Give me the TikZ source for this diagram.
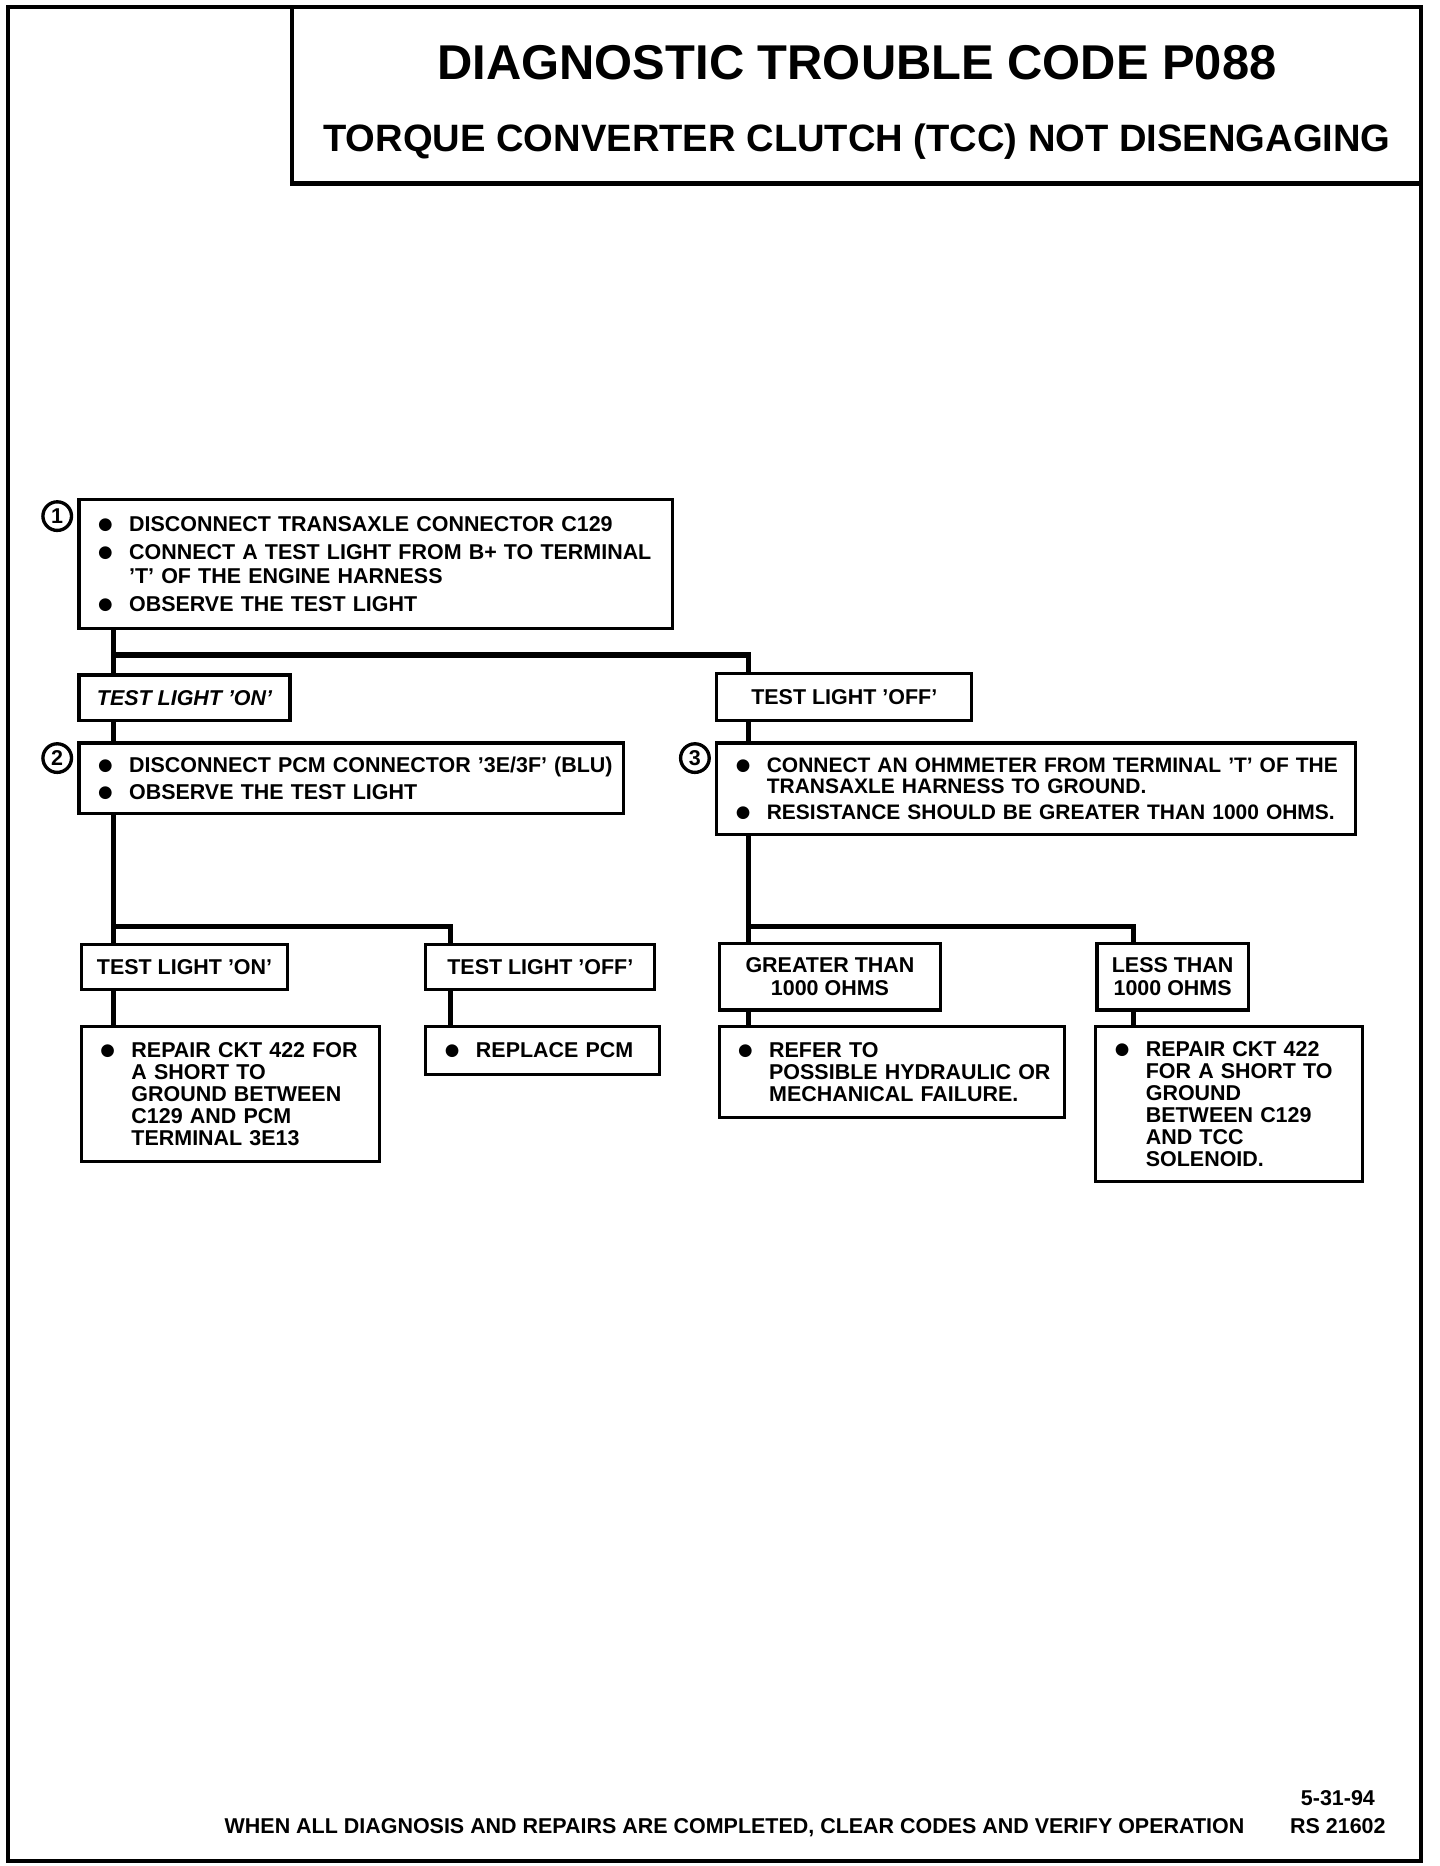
\documentclass[tikz,border=0pt]{standalone}
\usepackage{fontspec}
\setmainfont{Liberation Sans}
\newfontfamily\dotfont{DejaVu Sans}
\usetikzlibrary{positioning,calc}

\newcommand{\dgfont}{\fontsize{18}{18.5}\selectfont\bfseries}
\newcommand{\bl}[1]{\makebox[26pt][l]{\raisebox{1.8pt}{\dotfont\fontsize{14}{14}\selectfont ●}}\mbox{#1}}
\newcommand{\cl}[1]{\hspace*{26pt}\mbox{#1}}

\tikzset{
  stepbox/.style={draw, line width=2.6pt, anchor=north west, inner xsep=16pt, inner ysep=0pt, align=left, font=\dgfont},
  answer/.style={draw, line width=2.6pt, anchor=north west, inner sep=0pt, align=center, font=\dgfont},
  wire/.style={line width=4.4pt, line join=miter},
  frame/.style={line width=3.6pt},
  numcirc/.style={draw, circle, line width=2.8pt, minimum size=24pt, inner sep=0pt, font=\fontsize{18}{18}\selectfont\bfseries}
}

\begin{document}
\begin{tikzpicture}[x=1pt, y=-1pt]

\useasboundingbox (0,0) rectangle (1208,1565.5);

% frame and title block
\draw[frame] (7,6) rectangle (1192,1561);
\draw[frame] (245,6) |- (1192,154);

\node[anchor=base, font=\fontsize{41}{41}\selectfont\bfseries] (title) at (719,67) {DIAGNOSTIC TROUBLE CODE P088};
\node[anchor=base, font=\fontsize{32}{32}\selectfont\bfseries] (subtitle) at (719,127) {TORQUE CONVERTER CLUTCH (TCC) NOT DISENGAGING};

% step 1
\node[numcirc] (c1) at (48,433) {1};
\node[stepbox, text width=466pt, minimum height=108pt] (s1) at (65,418)
  {\bl{DISCONNECT TRANSAXLE CONNECTOR C129}\\[5pt]
   \bl{CONNECT A TEST LIGHT FROM B+ TO TERMINAL}\\[1.5pt]
   \cl{'T' OF THE ENGINE HARNESS}\\[5pt]
   \bl{OBSERVE THE TEST LIGHT}};

\node[answer, minimum width=177pt, minimum height=38pt] (on1) at (65,565) {\itshape TEST LIGHT 'ON'};
\node[answer, minimum width=214pt, minimum height=39pt] (off1) at (600,564) {TEST LIGHT 'OFF'};

% step 2
\node[numcirc] (c2) at (48,636) {2};
\node[stepbox, text width=425pt, minimum height=59pt] (s2) at (65,622)
  {\bl{DISCONNECT PCM CONNECTOR '3E/3F' (BLU)}\\[4pt]
   \bl{OBSERVE THE TEST LIGHT}};

% step 3
\node[numcirc] (c3) at (583,636) {3};
\node[stepbox, text width=504pt, minimum height=77pt, font=\fontsize{17.6}{18}\selectfont\bfseries] (s3) at (600,622)
  {\bl{CONNECT AN OHMMETER FROM TERMINAL 'T' OF THE}\\
   \cl{TRANSAXLE HARNESS TO GROUND.}\\[4pt]
   \bl{RESISTANCE SHOULD BE GREATER THAN 1000 OHMS.}};

% results of step 2
\node[answer, minimum width=173pt, minimum height=38pt] (on2) at (67,791) {TEST LIGHT 'ON'};
\node[answer, minimum width=192pt, minimum height=38pt] (off2) at (356,791) {TEST LIGHT 'OFF'};

\node[stepbox, text width=218pt, minimum height=113pt] (rep1) at (67,860)
  {\bl{REPAIR CKT 422 FOR}\\
   \cl{A SHORT TO}\\
   \cl{GROUND BETWEEN}\\
   \cl{C129 AND PCM}\\
   \cl{TERMINAL 3E13}};
\node[stepbox, text width=164pt, minimum height=40pt] (pcm) at (356,860)
  {\bl{REPLACE PCM}};

% results of step 3
\node[answer, minimum width=186pt, minimum height=56pt] (gt) at (602,790) {GREATER THAN\\[1.5pt] 1000 OHMS};
\node[answer, minimum width=127pt, minimum height=56pt] (lt) at (919,790) {LESS THAN\\[1.5pt] 1000 OHMS};

\node[stepbox, text width=258pt, minimum height=76pt] (ref) at (602,860)
  {\bl{REFER TO}\\
   \cl{POSSIBLE HYDRAULIC OR}\\
   \cl{MECHANICAL FAILURE.}};
\node[stepbox, text width=192pt, minimum height=130pt] (rep2) at (918,860)
  {\bl{REPAIR CKT 422}\\
   \cl{FOR A SHORT TO}\\
   \cl{GROUND}\\
   \cl{BETWEEN C129}\\
   \cl{AND TCC}\\
   \cl{SOLENOID.}};

% connectors
\draw[wire] ([xshift=30pt]s1.south west) -- ([xshift=30pt]on1.north west);
\draw[wire] ([xshift=30pt]s1.south west) -- ++(0,21) -| ([xshift=28pt]off1.north west);
\draw[wire] ([xshift=30pt]on1.south west) -- ([xshift=30pt]s2.north west);
\draw[wire] ([xshift=28pt]off1.south west) -- ([xshift=28pt]s3.north west);

\draw[wire] ([xshift=30pt]s2.south west) -- ([xshift=28pt]on2.north west);
\draw[wire] ([xshift=30pt]s2.south west) -- ++(0,94) -| ([xshift=22pt]off2.north west);
\draw[wire] ([xshift=28pt]on2.south west) -- ([xshift=28pt]rep1.north west);
\draw[wire] ([xshift=22pt]off2.south west) -- ([xshift=22pt]pcm.north west);

\draw[wire] ([xshift=28pt]s3.south west) -- ([xshift=26pt]gt.north west);
\draw[wire] ([xshift=28pt]s3.south west) -- ++(0,76) -| ([xshift=32pt]lt.north west);
\draw[wire] ([xshift=26pt]gt.south west) -- ([xshift=26pt]ref.north west);
\draw[wire] ([xshift=32pt]lt.south west) -- ([xshift=33pt]rep2.north west);

% footer
\node[anchor=base west, font=\dgfont] (note) at (185,1538) {WHEN ALL DIAGNOSIS AND REPAIRS ARE COMPLETED, CLEAR CODES AND VERIFY OPERATION};
\node[anchor=base east, font=\dgfont] (date) at (1157,1515) {5-31-94};
\node[anchor=base east, font=\dgfont] (ref no) at (1166,1538) {RS 21602};

\end{tikzpicture}
\end{document}
